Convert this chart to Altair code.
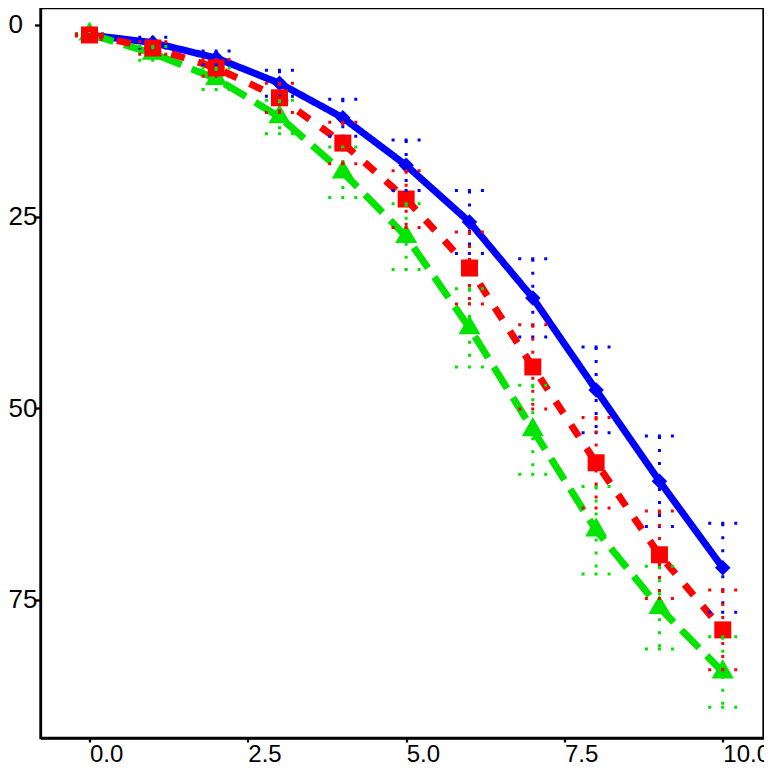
import altair as alt
import pandas as pd

x_vals = [0, 1, 2, 3, 4, 5, 6, 7, 8, 9, 10]
blue_y = [1.3, 2.3, 4.3, 7.6, 12.1, 18.3, 25.7, 35.6, 47.6, 59.5, 70.8]
red_y = [1.3, 3.0, 5.6, 9.5, 15.4, 22.7, 31.7, 44.6, 57.1, 69.1, 78.9]
green_y = [1.2, 3.7, 7.0, 12.0, 19.2, 27.6, 39.5, 52.8, 65.9, 76.0, 84.4]
blue_err = [0.1, 0.7, 0.9, 1.7, 2.4, 3.3, 4.1, 5.1, 5.6, 5.9, 5.8]
red_err = [0.1, 0.8, 1.1, 1.9, 2.7, 3.7, 4.7, 5.5, 5.9, 5.7, 5.2]
green_err = [0.1, 0.9, 1.4, 2.2, 3.3, 4.3, 5.1, 5.8, 5.7, 5.4, 4.6]

x_ticks = [0, 2.5, 5, 7.5, 10]
y_ticks = [0, 25, 50, 75]

series = [
    ("blue", blue_y, blue_err, "#0000FF", [1, 0], "diamond", 240),
    ("green", green_y, green_err, "#00E400", [25, 11], "M0,-1.1547L1,0.57735L-1,0.57735Z", 484),
    ("red", red_y, red_err, "#FF0000", [14, 14], "square", 289),
]

rows = []
for name, ys, es, *_ in series:
    for xv, yv, ev in zip(x_vals, ys, es):
        rows.append({"series": name, "x": xv, "y": yv, "lo": yv - ev, "hi": yv + ev,
                     "xl": xv - 0.23, "xr": xv + 0.23})
df = pd.DataFrame(rows)

FONT = "Liberation Sans"
xs = alt.Scale(domain=[-0.774, 10.643], nice=False, zero=False)
ys_ = alt.Scale(domain=[-2.217, 93.0], nice=False, zero=False, reverse=True)
xaxis = alt.Axis(values=x_ticks, format=".1f", title=None, grid=False, labelAlign="left",
                 labelFont=FONT, labelFontSize=24, labelColor="black", tickColor="black",
                 domainColor="black", tickSize=4, tickWidth=2.3, domainWidth=2.3,
                 labelPadding=0, labelFlush=False, labelOverlap=False, labelBound=False)
yaxis = alt.Axis(values=y_ticks, format="d", title=None, grid=False, labelAlign="left",
                 labelBaseline="middle", labelFont=FONT, labelFontSize=26, labelColor="black",
                 tickColor="black", domainColor="black", tickSize=6, tickWidth=2.3,
                 domainWidth=2.3, labelPadding=26.5, labelFlush=False, labelOverlap=False,
                 labelBound=False)

base = alt.Chart(df)
lines, points, bars = [], [], []
for name, _, _, color, dash, shape, size in series:
    b = base.transform_filter(alt.datum.series == name)
    lines.append(b.mark_line(color=color, strokeWidth=7, strokeDash=dash,
                             strokeJoin="round").encode(
        x=alt.X("x:Q", scale=xs, axis=xaxis), y=alt.Y("y:Q", scale=ys_, axis=yaxis)))
    points.append(b.mark_point(filled=True, color=color, shape=shape, size=size,
                               opacity=1, strokeWidth=0).encode(
        x=alt.X("x:Q", scale=xs, axis=xaxis), y=alt.Y("y:Q", scale=ys_, axis=yaxis)))
    bars.append(b.mark_rule(color=color, strokeWidth=3, strokeDash=[3, 10]).encode(
        x=alt.X("x:Q", scale=xs, axis=xaxis), y=alt.Y("lo:Q", scale=ys_, axis=yaxis),
        y2="hi:Q"))
    bars.append(b.mark_rule(color=color, strokeWidth=3, strokeDash=[3, 10]).encode(
        x=alt.X("xl:Q", scale=xs, axis=xaxis), x2="xr:Q",
        y=alt.Y("lo:Q", scale=ys_, axis=yaxis)))
    bars.append(b.mark_rule(color=color, strokeWidth=3, strokeDash=[3, 10]).encode(
        x=alt.X("xl:Q", scale=xs, axis=xaxis), x2="xr:Q",
        y=alt.Y("hi:Q", scale=ys_, axis=yaxis)))

chart = alt.layer(*lines, *points, *bars).properties(
    width=723, height=730,
    autosize=alt.AutoSizeParams(type="none"),
    padding={"left": 32.5, "top": 0, "right": 0.5, "bottom": 26},
    background="white",
).configure_view(stroke="black", strokeWidth=2.3)

chart.save("out.html", embed_options={"renderer": "svg", "actions": False})
